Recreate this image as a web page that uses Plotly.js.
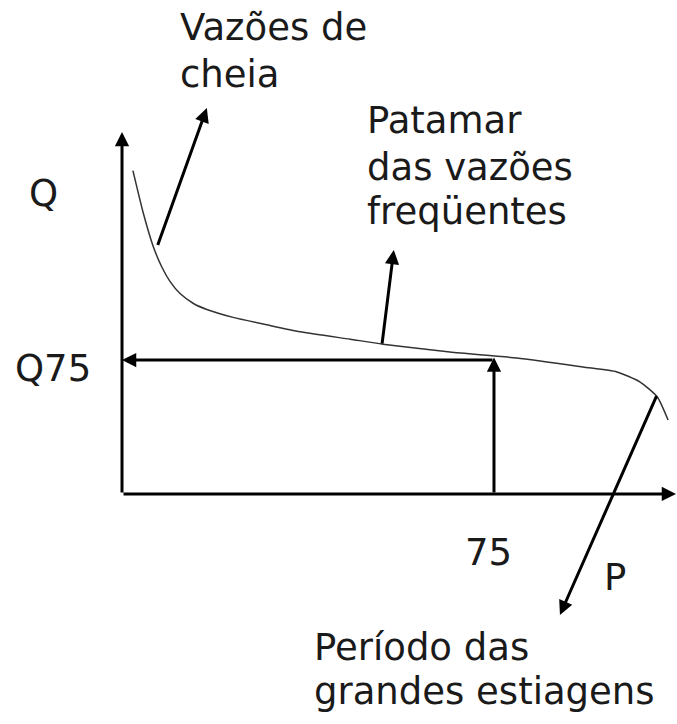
<!DOCTYPE html>
<html>
<head>
<meta charset="utf-8">
<script src="https://cdn.plot.ly/plotly-3.0.1.min.js"></script>
<style>
  html, body { margin: 0; padding: 0; background: #fff; }
  #plot { width: 677px; height: 724px; }
</style>
</head>
<body>
<div id="plot"></div>
<script>
// curva de permanência (esquemática): P = % do tempo, Q = vazão
const pCurve = [2.2, 4.3, 6.3, 8.0, 9.7, 11.7, 14.4, 17.1, 22.4, 29.2, 35.9, 46.0, 52.6, 66.1, 79.6, 92.9, 99.8, 104.4, 107.9, 110.1];
const qCurve = [65.2, 56.6, 49.9, 45.8, 42.8, 40.4, 38.4, 37.2, 35.6, 34.1, 32.7, 31.2, 30.2, 28.6, 27.4, 25.6, 24.6, 22.6, 19.6, 14.9];

// eixos e ponto de referência
const pAxisEnd = 111.7;
const qAxisEnd = 73.0;
const p75 = 75;
const q75 = 27.0;

// setas explicativas: [cauda P, cauda Q, ponta P, ponta Q]
const arrowCheia = [7.1, 49.9, 17.1, 77.8];
const arrowPatamar = [52.4, 30.0, 54.8, 49.2];
const arrowEstiagem = [107.9, 20.0, 88.3, -24.4];

// textos
const labelCheia = ["Vazões de", "cheia"];
const labelPatamar = ["Patamar", "das vazões", "freqüentes"];
const labelEstiagem = ["Período das", "grandes estiagens"];
const labelQ = "Q";
const labelQ75 = "Q75";
const label75 = "75";
const labelP = "P";

const FONT = { family: "DejaVu Sans, Verdana, sans-serif", size: 37, color: "#1a1a1a" };

function arrow(x0, y0, x1, y1, w) {
  return {
    x: x1, y: y1, ax: x0, ay: y0,
    xref: "x", yref: "y", axref: "x", ayref: "y",
    text: "", showarrow: true,
    arrowhead: 2, arrowsize: 0.95, arrowwidth: w || 3,
    arrowcolor: "#000", standoff: 0, startstandoff: 0,
  };
}

function label(text, x, y) {
  return {
    x: x, y: y, xref: "x", yref: "y",
    text: text, showarrow: false,
    xanchor: "left", yanchor: "middle",
    font: FONT,
  };
}

const annotations = [
  // eixos
  arrow(0, 0, pAxisEnd, 0),
  arrow(0, 0, 0, qAxisEnd),
  // Q75
  arrow(p75, 0, p75, q75 + 0.5),
  arrow(p75, q75, 0, q75),
  // setas dos rótulos
  arrow(arrowCheia[0], arrowCheia[1], arrowCheia[2], arrowCheia[3]),
  arrow(arrowPatamar[0], arrowPatamar[1], arrowPatamar[2], arrowPatamar[3]),
  arrow(arrowEstiagem[0], arrowEstiagem[1], arrowEstiagem[2], arrowEstiagem[3]),
];

// rótulos, uma linha por anotação
const cheiaY = [94.0, 84.5];
labelCheia.forEach((t, i) => annotations.push(label(t, 11.3, cheiaY[i])));
const patamarY = [75.4, 65.9, 56.9];
labelPatamar.forEach((t, i) => annotations.push(label(t, 49.0, patamarY[i])));
const estiagemY = [-31.0, -39.9];
labelEstiagem.forEach((t, i) => annotations.push(label(t, 38.3, estiagemY[i])));
annotations.push(label(labelQ, -19.2, 60.5));
annotations.push(label(labelQ75, -22.0, 25.2));
annotations.push(label(label75, 68.8, -11.9));
annotations.push(label(labelP, 96.8, -16.9));

const curve = {
  type: "scatter",
  mode: "lines",
  x: pCurve,
  y: qCurve,
  line: { color: "#333", width: 1.5, shape: "spline", smoothing: 0.6 },
  hoverinfo: "skip",
};

const hidden = { visible: false, fixedrange: true };
const layout = {
  width: 677,
  height: 724,
  margin: { l: 0, r: 0, t: 0, b: 0 },
  paper_bgcolor: "#fff",
  plot_bgcolor: "#fff",
  showlegend: false,
  xaxis: Object.assign({ range: [-24.6, 111.9] }, hidden),
  yaxis: Object.assign({ range: [-46.4, 99.6] }, hidden),
  annotations: annotations,
};

Plotly.newPlot("plot", [curve], layout, { staticPlot: true, displayModeBar: false });
</script>
</body>
</html>
